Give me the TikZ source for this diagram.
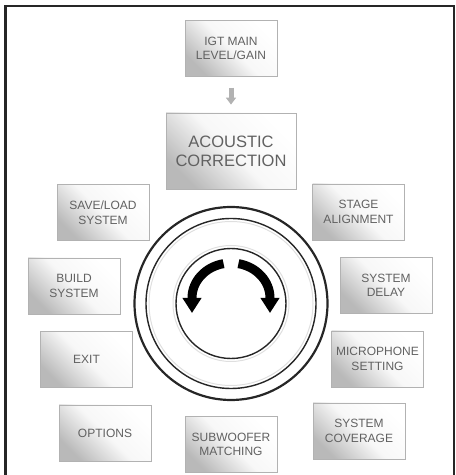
\documentclass[tikz,border=0pt]{standalone}
\usepackage{fontspec}
\setmainfont{Liberation Sans}
\usetikzlibrary{arrows.meta, positioning}

\begin{document}
\begin{tikzpicture}[
        x=1pt, y=1pt,
        menu/.style = {
            rectangle,
            draw=gray!60,
            line width=0.8pt,
            top color=white,
            bottom color=gray!55,
            middle color=gray!6,
            shading angle=-45,
            minimum width=92pt,
            minimum height=56pt,
            inner sep=2pt,
            align=center,
            text=black!62,
            font=\fontsize{12}{14.5}\selectfont
        },
        bigmenu/.style = {
            menu,
            minimum width=130pt,
            minimum height=76pt,
            font=\fontsize{16.5}{19}\selectfont
        },
        feed/.style = {
            -{Triangle[length=7pt, width=10pt]},
            line width=5pt,
            draw=gray!60,
            shorten >=8pt,
            shorten <=11pt
        },
        turn/.style = {
            -{Triangle[length=15pt, width=18pt]},
            line width=9pt,
            draw=black
        },
        ring/.style = {
            draw=black!85,
            line width=1.4pt
        },
        halo/.style = {
            draw=gray!25,
            line width=1pt
        }
    ]

    \useasboundingbox (0,0) rectangle (456,475);

    % Frame
    \draw[line width=2.6pt, black!85] (5.3,-10) -- (5.3,469) -- (454,469) -- (454,-10);

    % Nodes
    \node[bigmenu] (acoustic) at (231,324) {ACOUSTIC\\CORRECTION};
    \node[menu, above=36pt of acoustic] (igt) {IGT MAIN\\LEVEL/GAIN};
    \node[menu] (saveload) at (103,262.5) {SAVE/LOAD\\SYSTEM};
    \node[menu] (stage)    at (358.5,263) {STAGE\\ALIGNMENT};
    \node[menu] (build)    at (74,189)    {BUILD\\SYSTEM};
    \node[menu] (delay)    at (386,189.5) {SYSTEM\\DELAY};
    \node[menu] (exit)     at (86.5,115.5) {EXIT};
    \node[menu] (mic)      at (377.5,116) {MICROPHONE\\SETTING};
    \node[menu] (options)  at (105,42)    {OPTIONS};
    \node[menu] (sub)      at (231,30.5)  {SUBWOOFER\\MATCHING};
    \node[menu] (coverage) at (359,44)    {SYSTEM\\COVERAGE};

    % Arrow
    \draw[feed] (igt) -- (acoustic);

    % Dial
    \coordinate (dial) at (231,171.5);
    \coordinate (pivot) at (231,177);
    \draw[ring, line width=2.2pt] (dial) circle[radius=96.5];
    \draw[ring] (dial) circle[radius=85];
    \draw[halo] (dial) circle[radius=82];
    \draw[halo] (dial) circle[radius=58];
    \draw[ring] (dial) circle[radius=55];

    % Turn arrows
    \draw[turn] ([shift={(101:39pt and 35pt)}]pivot)
        arc[start angle=101, end angle=180, x radius=39pt, y radius=35pt] -- ++(0,-15);
    \draw[turn] ([shift={(79:39pt and 35pt)}]pivot)
        arc[start angle=79, end angle=0, x radius=39pt, y radius=35pt] -- ++(0,-15);

\end{tikzpicture}
\end{document}
